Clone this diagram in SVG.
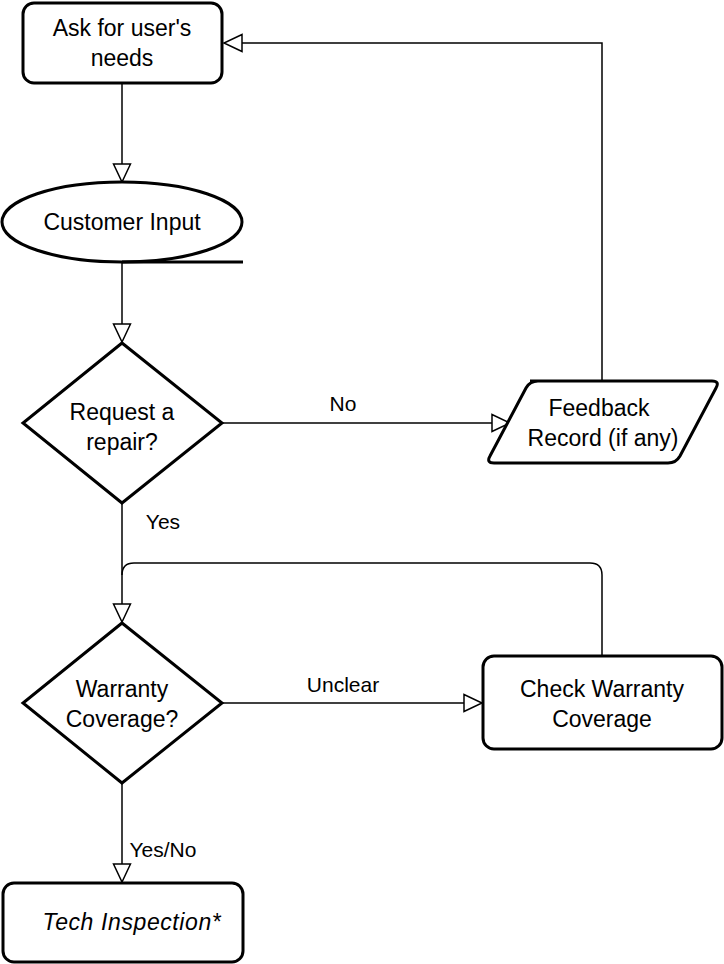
<svg xmlns="http://www.w3.org/2000/svg" width="724" height="964" viewBox="0 0 724 964">
<style>
.n{fill:#fff;stroke:#000;stroke-width:3}
.t{font-family:"Liberation Sans",Arial,sans-serif;font-size:23px;fill:#000;text-anchor:middle}
.l{font-family:"Liberation Sans",Arial,sans-serif;font-size:21px;fill:#000;text-anchor:middle}
.e{fill:none;stroke:#000;stroke-width:1.5}
</style>
<defs>
<marker id="a" markerWidth="22" markerHeight="22" refX="19" refY="10" orient="auto" markerUnits="userSpaceOnUse">
<path d="M1,1.5 L19,10 L1,18.5 Z" fill="#fff" stroke="#000" stroke-width="1.5"/>
</marker>
</defs>
<rect width="724" height="964" fill="#fff"/>
<g id="connectors">
<path class="e" d="M122,83 V182" marker-end="url(#a)"/>
<path class="e" d="M122,262 V342" marker-end="url(#a)"/>
<path class="e" d="M222,423 H510" marker-end="url(#a)"/>
<path class="e" d="M602,381 V43 H224" marker-end="url(#a)"/>
<path class="e" d="M122,503 V622" marker-end="url(#a)"/>
<path class="e" d="M602,656 V575 Q602,563 590,563 H134 Q122,563 122,575"/>
<path class="e" d="M222,703 H482" marker-end="url(#a)"/>
<path class="e" d="M122,783 V882" marker-end="url(#a)"/>
<text class="l" x="343" y="411">No</text>
<text class="l" x="163" y="529">Yes</text>
<text class="l" x="343" y="692">Unclear</text>
<text class="l" x="163" y="857">Yes/No</text>
</g>
<g id="ask">
<rect class="n" x="23" y="3" width="199" height="80" rx="11"/>
<text class="t" x="122" y="36">Ask for user's</text>
<text class="t" x="122" y="66">needs</text>
</g>
<g id="input">
<ellipse class="n" cx="122" cy="222" rx="120" ry="40"/>
<path d="M122,262 H243" stroke="#000" stroke-width="3"/>
<text class="t" x="122" y="230">Customer Input</text>
</g>
<g id="repair">
<path class="n" d="M122,343 L222,423 L122,503 L23,423 Z"/>
<text class="t" x="122" y="420">Request a</text>
<text class="t" x="122" y="450">repair?</text>
</g>
<g id="feedback">
<path class="n" d="M530,381 H712 Q720,381 716,388 L680,456 Q676,463 668,463 H494 Q486,463 490,456 L526,388 Q530,381 538,381 Z"/>
<text class="t" x="599" y="416">Feedback</text>
<text class="t" x="603" y="446">Record (if any)</text>
</g>
<g id="warranty">
<path class="n" d="M122,623 L222,703 L122,783 L23,703 Z"/>
<text class="t" x="122" y="697">Warranty</text>
<text class="t" x="122" y="727">Coverage?</text>
</g>
<g id="check">
<rect class="n" x="483" y="656" width="239" height="93" rx="11"/>
<text class="t" x="602" y="697">Check Warranty</text>
<text class="t" x="602" y="727">Coverage</text>
</g>
<g id="tech">
<rect class="n" x="3" y="883" width="240" height="79" rx="11"/>
<text class="t" x="132" y="930" font-style="italic" font-size="24" letter-spacing="0.6">Tech Inspection*</text>
</g>
</svg>
